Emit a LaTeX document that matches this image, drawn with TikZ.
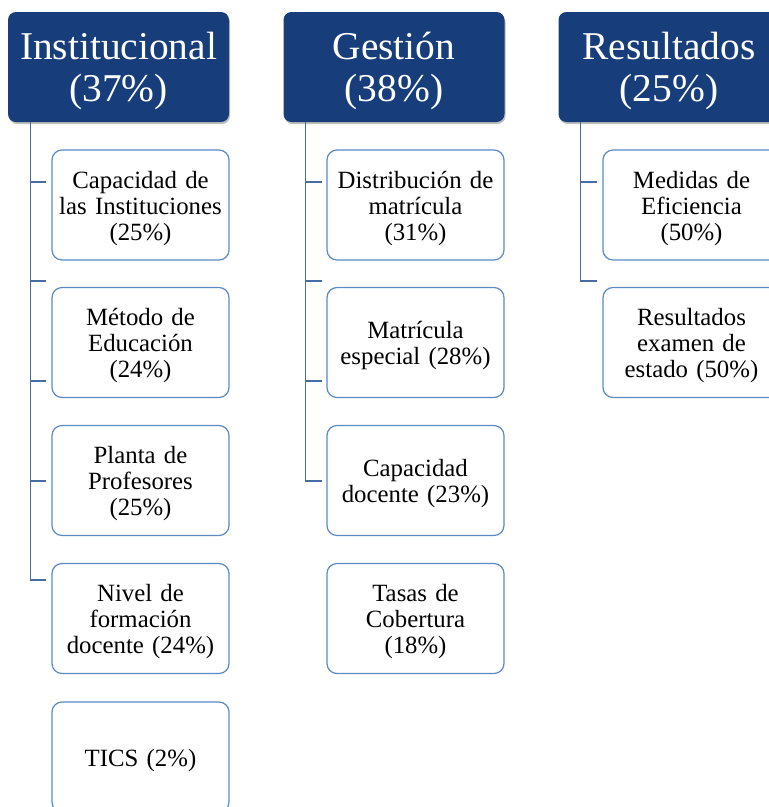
\documentclass[tikz,border=0pt]{standalone}
\usepackage{fontspec}
\setmainfont{Liberation Serif}
\usetikzlibrary{shadows}
\definecolor{hdrblue}{RGB}{23,62,122}
\definecolor{boxblue}{RGB}{92,138,196}
\definecolor{lineblue}{RGB}{70,110,165}
\tikzset{
  hdr/.style={draw=none, fill=hdrblue, rounded corners=8pt, minimum width=221pt, minimum height=110pt,
    text=white, align=center, inner sep=0pt, text width=215pt,
    font=\fontsize{39.4}{42}\selectfont,
    execute at begin node={\rule{0pt}{36pt}},
    drop shadow={shadow xshift=1pt, shadow yshift=-2pt, opacity=0.25, fill=black}},
  child/.style={draw=boxblue, line width=1.2pt, fill=white, rounded corners=10pt, minimum width=177pt,
    minimum height=110pt, text=black, align=center, inner sep=0pt, text width=170pt,
    font=\fontsize{24.8}{26}\selectfont,
    execute at begin node={\rule{0pt}{24pt}}},
  conn/.style={draw=lineblue, line width=1.5pt}
}
\begin{document}
\begin{tikzpicture}[x=1pt, y=-1pt]
\useasboundingbox (0,0) rectangle (769,807);
% headers
\node[hdr] (h1) at (118.5,67) {Institucional\\(37\%)};
\node[hdr] (h2) at (394,67) {Gestión\\(38\%)};
\node[hdr] (h3) at (669,67) {Resultados\\(25\%)};
% Institucional children
\node[child] (i1) at (140.5,205) {Capacidad de\\las Instituciones\\(25\%)};
\node[child] (i2) at (140.5,342.5) {Método de\\Educación\\(24\%)};
\node[child] (i3) at (140.5,480.5) {Planta de\\Profesores\\(25\%)};
\node[child] (i4) at (140.5,618.5) {Nivel de\\formación\\docente (24\%)};
\node[child] (i5) at (140.5,757) {TICS (2\%)};
% Gestion children
\node[child] (g1) at (415.5,205) {Distribución de\\matrícula\\(31\%)};
\node[child] (g2) at (415.5,342.5) {Matrícula\\especial (28\%)};
\node[child] (g3) at (415.5,480.5) {Capacidad\\docente (23\%)};
\node[child] (g4) at (415.5,618.5) {Tasas de\\Cobertura\\(18\%)};
% Resultados children
\node[child] (r1) at (691.5,205) {Medidas de\\Eficiencia\\(50\%)};
\node[child] (r2) at (691.5,342.5) {Resultados\\examen de\\estado (50\%)};
% connector anchors
\path (h1.south west) ++(22.5,0) coordinate (i0);
\path (h2.south west) ++(22,0) coordinate (g0);
\path (h3.south west) ++(22,0) coordinate (r0);
\coordinate (it1) at (46,182);
\coordinate (it2) at (46,281);
\coordinate (it3) at (46,381);
\coordinate (it4) at (46,481);
\coordinate (it5) at (46,580);
\coordinate (gt1) at (322,182);
\coordinate (gt2) at (322,281);
\coordinate (gt3) at (322,381);
\coordinate (gt4) at (322,481);
\coordinate (rt1) at (597,182);
\coordinate (rt2) at (597,281);
% connectors
\draw[conn] (i0) |- (it5);
\foreach \t in {it1,it2,it3,it4} \draw[conn] (i0 |- \t) -- (\t);
\draw[conn] (g0) |- (gt4);
\foreach \t in {gt1,gt2,gt3} \draw[conn] (g0 |- \t) -- (\t);
\draw[conn] (r0) |- (rt2);
\draw[conn] (r0 |- rt1) -- (rt1);
\end{tikzpicture}
\end{document}
